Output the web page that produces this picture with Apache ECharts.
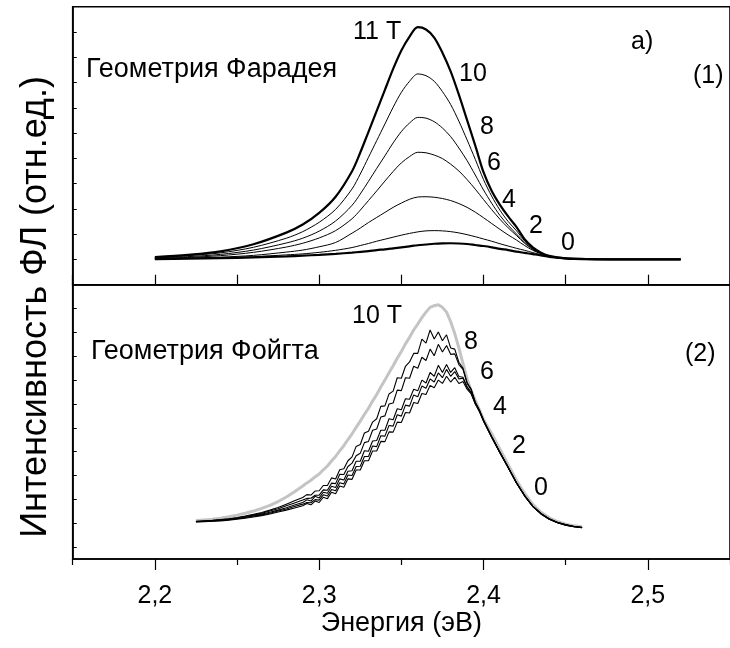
<!DOCTYPE html>
<html>
<head>
<meta charset="utf-8">
<script src="https://cdn.jsdelivr.net/npm/echarts@6/dist/echarts.min.js"></script>
<style>
  html, body { margin: 0; padding: 0; background: #fff; }
  #chart { width: 730px; height: 648px; }
</style>
</head>
<body>
<div id="chart"></div>
<script>
// Photoluminescence spectra vs magnetic field, two geometries.
// Energies in eV, intensities in arbitrary units.

// (1) Faraday geometry: smooth spectra at B = 11, 10, 8, 6, 4, 2, 0 T
const energyFaraday = [2.20, 2.22, 2.24, 2.26, 2.28, 2.29, 2.30, 2.31, 2.32, 2.325, 2.33, 2.335, 2.34, 2.345, 2.35, 2.355, 2.36, 2.365, 2.37, 2.375, 2.38, 2.385, 2.39, 2.395, 2.40, 2.405, 2.41, 2.415, 2.42, 2.425, 2.43, 2.435, 2.44, 2.45, 2.46, 2.48, 2.50, 2.52];
const faraday11 = [1.09, 1.18, 1.32, 1.60, 2.06, 2.38, 2.84, 3.48, 4.49, 5.23, 6.05, 6.88, 7.71, 8.54, 9.27, 9.82, 10.19, 10.10, 9.78, 9.18, 8.44, 7.52, 6.51, 5.50, 4.45, 3.71, 3.16, 2.70, 2.29, 1.80, 1.48, 1.27, 1.14, 1.04, 1.02, 1.00, 1.00, 1.00];
const faraday10 = [1.07, 1.15, 1.26, 1.48, 1.84, 2.10, 2.47, 2.98, 3.79, 4.38, 5.04, 5.70, 6.36, 7.02, 7.61, 8.05, 8.34, 8.27, 8.05, 7.64, 7.13, 6.47, 5.73, 4.96, 4.16, 3.50, 2.95, 2.50, 2.14, 1.74, 1.45, 1.26, 1.13, 1.04, 1.01, 1.00, 1.00, 1.00];
const faraday8 = [1.06, 1.11, 1.20, 1.37, 1.65, 1.84, 2.12, 2.52, 3.14, 3.59, 4.09, 4.60, 5.10, 5.61, 6.06, 6.40, 6.62, 6.59, 6.45, 6.20, 5.86, 5.41, 4.91, 4.34, 3.75, 3.22, 2.74, 2.35, 2.01, 1.68, 1.42, 1.25, 1.13, 1.04, 1.01, 1.00, 1.00, 1.00];
const faraday6 = [1.04, 1.08, 1.15, 1.28, 1.49, 1.64, 1.85, 2.14, 2.61, 2.95, 3.33, 3.71, 4.10, 4.48, 4.82, 5.07, 5.24, 5.22, 5.13, 4.99, 4.77, 4.50, 4.16, 3.78, 3.37, 2.97, 2.59, 2.25, 1.95, 1.64, 1.39, 1.24, 1.13, 1.04, 1.01, 1.00, 1.00, 1.00];
const faraday4 = [1.02, 1.05, 1.09, 1.16, 1.29, 1.37, 1.50, 1.67, 2.04, 2.24, 2.46, 2.66, 2.86, 3.06, 3.23, 3.38, 3.47, 3.48, 3.46, 3.41, 3.33, 3.21, 3.06, 2.87, 2.65, 2.42, 2.19, 1.97, 1.77, 1.55, 1.36, 1.22, 1.12, 1.04, 1.01, 1.00, 1.00, 1.00];
const faraday2 = [1.02, 1.04, 1.07, 1.11, 1.18, 1.22, 1.28, 1.36, 1.47, 1.55, 1.63, 1.72, 1.80, 1.88, 1.96, 2.03, 2.09, 2.13, 2.14, 2.13, 2.10, 2.05, 1.98, 1.90, 1.81, 1.72, 1.62, 1.53, 1.44, 1.36, 1.27, 1.19, 1.12, 1.04, 1.01, 1.00, 1.00, 1.00];
const faraday0 = [1.01, 1.03, 1.05, 1.08, 1.12, 1.15, 1.18, 1.22, 1.27, 1.30, 1.33, 1.37, 1.40, 1.44, 1.48, 1.52, 1.56, 1.59, 1.62, 1.635, 1.64, 1.63, 1.61, 1.57, 1.53, 1.48, 1.42, 1.37, 1.31, 1.26, 1.21, 1.16, 1.10, 1.04, 1.01, 1.00, 1.00, 1.00];

// (2) Voigt geometry: measured (noisy) spectra at B = 10, 8, 6, 4, 2, 0 T
const energyVoigt = [2.225, 2.230, 2.235, 2.240, 2.245, 2.250, 2.255, 2.260, 2.265, 2.270, 2.275, 2.280, 2.285,
  2.2900, 2.2925, 2.2950, 2.2975, 2.3000, 2.3025, 2.3050, 2.3075, 2.3100, 2.3125, 2.3150, 2.3175, 2.3200, 2.3225, 2.3250, 2.3275,
  2.3300, 2.3325, 2.3350, 2.3375, 2.3400, 2.3425, 2.3450, 2.3475, 2.3500, 2.3525, 2.3550, 2.3575, 2.3600, 2.3625, 2.3650, 2.3675,
  2.3700, 2.3725, 2.3750, 2.3775, 2.3800, 2.3825, 2.3850, 2.3875, 2.3900, 2.3925, 2.3950, 2.3975, 2.4000,
  2.405, 2.410, 2.415, 2.420, 2.425, 2.430, 2.435, 2.440, 2.445, 2.450, 2.455, 2.460];
const voigt10 = [1.61, 1.64, 1.67, 1.71, 1.77, 1.84, 1.92, 2.01, 2.12, 2.25, 2.41, 2.60, 2.82,
  3.06, 3.19, 3.30, 3.44, 3.56, 3.74, 3.90, 4.11, 4.30, 4.53, 4.75, 5.01, 5.25, 5.52, 5.78, 6.06,
  6.32, 6.62, 6.90, 7.21, 7.50, 7.81, 8.10, 8.42, 8.70, 9.02, 9.30, 9.60, 9.85, 10.12, 10.35, 10.55,
  10.62, 10.66, 10.55, 10.35, 9.95, 9.45, 8.85, 8.20, 7.55, 7.05, 6.65, 6.25, 5.85,
  5.25, 4.60, 3.95, 3.30, 2.75, 2.29, 1.96, 1.73, 1.57, 1.46, 1.39, 1.35];
const voigt8 = [1.58, 1.60, 1.62, 1.65, 1.69, 1.74, 1.80, 1.87, 1.95, 2.05, 2.16, 2.30, 2.44,
  2.58, 2.70, 2.68, 2.85, 2.86, 3.08, 3.08, 3.40, 3.35, 3.74, 3.78, 4.12, 4.28, 4.72, 4.80, 5.28,
  5.36, 5.74, 5.88, 6.40, 6.42, 6.92, 7.04, 7.60, 7.58, 8.08, 8.26, 8.62, 8.62, 9.22, 9.05, 9.60,
  9.22, 9.52, 9.15, 9.40, 8.85, 8.80, 8.25, 8.00, 7.40, 7.12, 6.58, 6.24, 5.83,
  5.13, 4.48, 3.85, 3.21, 2.67, 2.22, 1.91, 1.69, 1.54, 1.44, 1.37, 1.33];
const voigt6 = [1.57, 1.59, 1.61, 1.64, 1.68, 1.72, 1.78, 1.84, 1.92, 2.01, 2.11, 2.23, 2.35,
  2.47, 2.54, 2.55, 2.67, 2.68, 2.90, 2.88, 3.18, 3.16, 3.55, 3.54, 3.88, 4.02, 4.33, 4.43, 4.88,
  4.93, 5.40, 5.45, 5.95, 6.00, 6.50, 6.54, 7.08, 7.06, 7.60, 7.58, 8.08, 8.00, 8.46, 8.32, 8.80,
  8.52, 9.00, 8.68, 8.95, 8.58, 8.60, 8.15, 7.95, 7.36, 7.10, 6.55, 6.25, 5.82,
  5.12, 4.47, 3.85, 3.21, 2.66, 2.21, 1.90, 1.68, 1.53, 1.43, 1.36, 1.32];
const voigt4 = [1.56, 1.58, 1.60, 1.63, 1.66, 1.70, 1.75, 1.81, 1.88, 1.96, 2.05, 2.15, 2.26,
  2.37, 2.48, 2.43, 2.63, 2.56, 2.80, 2.76, 3.05, 3.00, 3.36, 3.31, 3.68, 3.70, 4.10, 4.10, 4.54,
  4.52, 4.95, 4.97, 5.40, 5.40, 5.88, 5.84, 6.30, 6.26, 6.72, 6.70, 7.12, 7.05, 7.50, 7.38, 7.82,
  7.66, 8.12, 7.82, 8.15, 7.82, 8.02, 7.65, 7.62, 7.22, 6.98, 6.52, 6.22, 5.80,
  5.11, 4.46, 3.84, 3.20, 2.65, 2.21, 1.90, 1.68, 1.53, 1.43, 1.36, 1.32];
const voigt2 = [1.56, 1.57, 1.59, 1.62, 1.65, 1.69, 1.74, 1.79, 1.85, 1.92, 2.01, 2.10, 2.20,
  2.30, 2.37, 2.36, 2.49, 2.47, 2.69, 2.64, 2.91, 2.86, 3.20, 3.15, 3.52, 3.50, 3.88, 3.89, 4.30,
  4.30, 4.74, 4.71, 5.17, 5.15, 5.60, 5.57, 6.05, 5.99, 6.45, 6.41, 6.88, 6.80, 7.25, 7.16, 7.55,
  7.42, 7.80, 7.60, 7.95, 7.66, 7.86, 7.55, 7.58, 7.20, 6.97, 6.52, 6.20, 5.80,
  5.10, 4.46, 3.84, 3.20, 2.65, 2.20, 1.89, 1.67, 1.52, 1.42, 1.35, 1.31];
const voigt0 = [1.55, 1.56, 1.58, 1.60, 1.63, 1.67, 1.71, 1.76, 1.82, 1.89, 1.97, 2.05, 2.14,
  2.23, 2.33, 2.27, 2.43, 2.37, 2.59, 2.53, 2.80, 2.74, 3.06, 3.01, 3.36, 3.34, 3.73, 3.73, 4.12,
  4.12, 4.53, 4.53, 4.93, 4.92, 5.33, 5.32, 5.74, 5.72, 6.14, 6.12, 6.56, 6.52, 6.94, 6.90, 7.28,
  7.18, 7.50, 7.36, 7.66, 7.42, 7.62, 7.36, 7.44, 7.12, 6.92, 6.50, 6.18, 5.78,
  5.09, 4.45, 3.83, 3.19, 2.64, 2.20, 1.89, 1.67, 1.52, 1.42, 1.35, 1.31];

// Axis ticks
const energyMajorTicks = [2.2, 2.3, 2.4, 2.5];
const energyMinorTicks = [2.15, 2.25, 2.35, 2.45, 2.55];
const voigtIntensityTicks = [0.5, 1.5, 2.5, 3.5, 4.5, 5.5, 6.5, 7.5, 8.5, 9.5, 10.5, 11.5];

const FONT = '"Liberation Sans", Arial, sans-serif';
const LEFT = 72.7, WIDTH = 658.7;

function pairs(xs, ys) { return xs.map((x, i) => [x, ys[i]]); }

function lineSeries(name, xs, ys, axis, color, width, smooth) {
  return {
    name: name, type: 'line', xAxisIndex: axis, yAxisIndex: axis,
    data: pairs(xs, ys), showSymbol: false, symbol: 'none', smooth: smooth,
    lineStyle: { color: color, width: width }, silent: true, animation: false, z: 3
  };
}

const chart = echarts.init(document.getElementById('chart'), null, { renderer: 'canvas' });

const axisLineStyle = { lineStyle: { color: '#000', width: 1.6 } };
const tickStyle = { color: '#000', width: 1.2 };

const option = {
  animation: false,
  backgroundColor: '#fff',
  grid: [
    { left: LEFT, top: 6.7, width: WIDTH, height: 278, show: true, borderColor: '#000', borderWidth: 1.6, backgroundColor: 'transparent' },
    { left: LEFT, top: 284.7, width: WIDTH, height: 274.3, show: true, borderColor: '#000', borderWidth: 1.6, backgroundColor: 'transparent' }
  ],
  xAxis: [
    { // upper panel energy axis (ticks only, pointing in)
      type: 'value', gridIndex: 0, min: 2.15, max: 2.55, interval: 0.05,
      axisLine: axisLineStyle, splitLine: { show: false },
      axisTick: { inside: true, length: 10, lineStyle: tickStyle },
      axisLabel: { show: false }
    },
    { // lower panel energy axis with labels
      type: 'value', gridIndex: 1, min: 2.15, max: 2.55,
      name: 'Энергия (эВ)', nameLocation: 'middle', nameGap: 50,
      nameTextStyle: { fontFamily: FONT, fontSize: 27, color: '#000' },
      axisLine: axisLineStyle, splitLine: { show: false },
      axisTick: { customValues: energyMajorTicks, length: 11, lineStyle: tickStyle },
      axisLabel: {
        customValues: energyMajorTicks, margin: 25,
        fontFamily: FONT, fontSize: 25, color: '#000',
        formatter: v => v.toFixed(1).replace('.', ',')
      }
    },
    { // lower panel minor energy ticks
      type: 'value', gridIndex: 1, min: 2.15, max: 2.55, position: 'bottom',
      axisLine: { show: false }, splitLine: { show: false },
      axisTick: { customValues: energyMinorTicks, length: 6, lineStyle: tickStyle },
      axisLabel: { show: false }
    }
  ],
  yAxis: [
    { // upper panel intensity
      type: 'value', gridIndex: 0, min: 0, max: 11, interval: 1,
      axisLine: axisLineStyle,
      axisTick: { inside: true, length: 4, lineStyle: { color: '#000', width: 1 } },
      axisLabel: { show: false }, splitLine: { show: false }
    },
    { // lower panel intensity
      type: 'value', gridIndex: 1, min: 0, max: 11.5,
      axisLine: axisLineStyle,
      axisTick: { inside: true, length: 4, customValues: voigtIntensityTicks, lineStyle: { color: '#000', width: 1 } },
      axisLabel: { show: false }, splitLine: { show: false }
    }
  ],
  series: [
    lineSeries('11 T', energyFaraday, faraday11, 0, '#000', 2.2, 0.3),
    lineSeries('10 T', energyFaraday, faraday10, 0, '#000', 1, 0.3),
    lineSeries('8 T', energyFaraday, faraday8, 0, '#000', 1, 0.3),
    lineSeries('6 T', energyFaraday, faraday6, 0, '#000', 1, 0.3),
    lineSeries('4 T', energyFaraday, faraday4, 0, '#000', 1, 0.3),
    lineSeries('2 T', energyFaraday, faraday2, 0, '#000', 1, 0.3),
    lineSeries('0 T', energyFaraday, faraday0, 0, '#000', 2.2, 0.3),
    lineSeries('10 T (V)', energyVoigt, voigt10, 1, '#c4c4c4', 3, false),
    lineSeries('8 T (V)', energyVoigt, voigt8, 1, '#000', 1.1, false),
    lineSeries('6 T (V)', energyVoigt, voigt6, 1, '#000', 1.1, false),
    lineSeries('4 T (V)', energyVoigt, voigt4, 1, '#000', 1.1, false),
    lineSeries('2 T (V)', energyVoigt, voigt2, 1, '#000', 1.1, false),
    lineSeries('0 T (V)', energyVoigt, voigt0, 1, '#000', 1.1, false)
  ],
  graphic: []
};

// Text annotations: [text, left, vertical centre, font size]
const annotations = [
  ['Геометрия Фарадея', 86, 70, 27],
  ['11 T', 353, 32, 25],
  ['a)', 631, 42, 25],
  ['(1)', 693, 76, 25],
  ['10', 459, 74, 25],
  ['8', 480, 127, 25],
  ['6', 487, 163, 25],
  ['4', 502, 200, 25],
  ['2', 529, 226, 25],
  ['0', 561, 243, 25],
  ['Геометрия Фойгта', 91, 352, 27],
  ['10 T', 352, 316, 25],
  ['8', 464, 342, 25],
  ['6', 480, 372, 25],
  ['4', 493, 407, 25],
  ['2', 512, 446, 25],
  ['0', 534, 488, 25],
  ['(2)', 685, 354, 25]
];
annotations.forEach(a => {
  option.graphic.push({
    type: 'text', x: a[1], y: a[2], silent: true, z: 10,
    style: { text: a[0], fill: '#000', font: a[3] + 'px ' + FONT, textAlign: 'left', textVerticalAlign: 'middle' }
  });
});
// vertical axis title shared by both panels
option.graphic.push({
  type: 'text', x: 36, y: 307, rotation: Math.PI / 2, silent: true, z: 10,
  style: { text: 'Интенсивность ФЛ (отн.ед.)', fill: '#000', font: '36px ' + FONT, textAlign: 'center', textVerticalAlign: 'middle' }
});

chart.setOption(option);
</script>
</body>
</html>
